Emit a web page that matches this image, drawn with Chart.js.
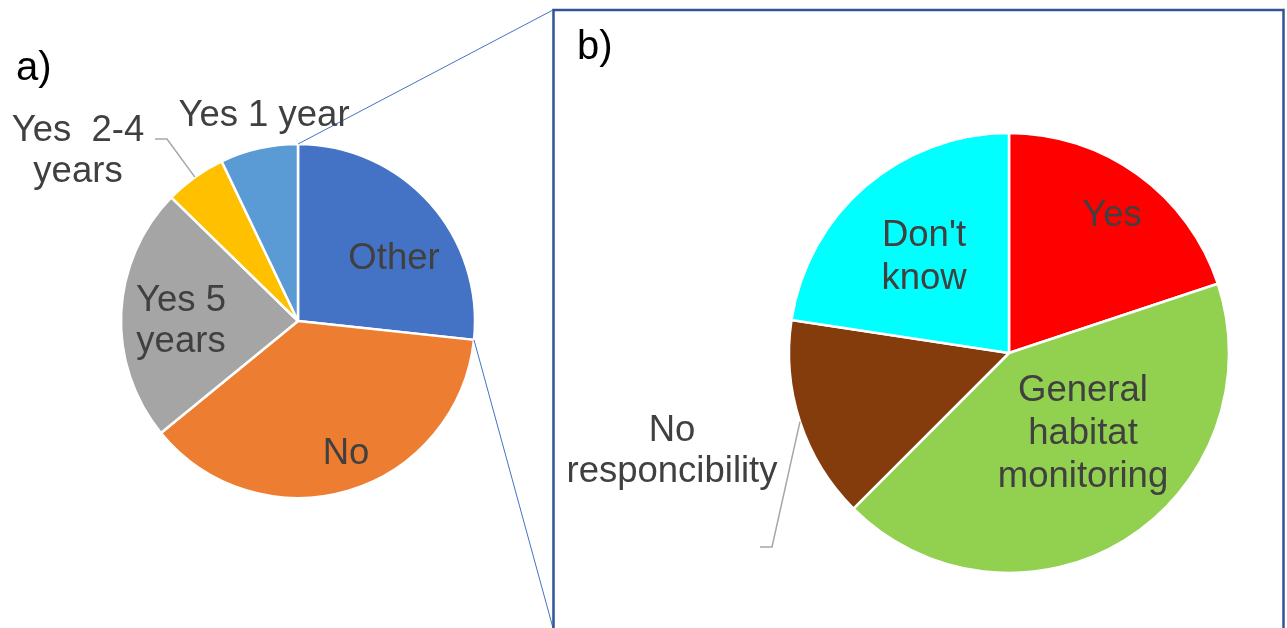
<!DOCTYPE html>
<html>
<head>
<meta charset="utf-8">
<title>Habitat monitoring survey</title>
<script src="https://cdn.jsdelivr.net/npm/chart.js@4.4.1/dist/chart.umd.min.js"></script>
<style>
  html, body { margin: 0; padding: 0; background: #fff; }
  .stage { position: relative; width: 1287px; height: 628px; overflow: hidden; }
  .stage canvas { position: absolute; left: 0; top: 0; }
</style>
</head>
<body>
<div class="stage">
  <canvas id="pieA" width="1287" height="628"></canvas>
  <canvas id="pieB" width="1287" height="628"></canvas>
</div>
<script>
// a) how long the monitoring has been running
const durationLabels = ['Other', 'No', 'Yes 5 years', 'Yes  2-4 years', 'Yes 1 year'];
const durationValues = [26.7, 37.4, 23.2, 5.6, 7.1];
const durationColors = ['#4472C4', '#ED7D31', '#A5A5A5', '#FFC000', '#5B9BD5'];

// b) breakdown of "Other"
const typeLabels = ['Yes', 'General habitat monitoring', 'No responcibility', "Don't know"];
const typeValues = [19.9, 42.6, 14.9, 22.6];
const typeColors = ['#FF0000', '#92D050', '#843C0C', '#00FFFF'];

const FONT = '36.5px "Liberation Sans", Arial, sans-serif';
const TEXT = '#404040';
const LINE_H = 41;

// label placement relative to the pie centre (baseline of the first line)
const durationText = [
  { lines: ['Other'], dx: 96, dy: -52 },
  { lines: ['No'], dx: 48, dy: 143 },
  { lines: ['Yes 5', 'years'], dx: -117, dy: -10 },
  { lines: ['Yes  2-4', 'years'], dx: -220, dy: -180, leader: [[-143, -182], [-131, -182]] },
  { lines: ['Yes 1 year'], dx: -34, dy: -195 },
];
const typeText = [
  { lines: ['Yes'], dx: 103, dy: -127 },
  { lines: ['General', 'habitat', 'monitoring'], dx: 74, dy: 48, lh: 43 },
  { lines: ['No', 'responcibility'], dx: -337, dy: 88, leader: [[-249, 194], [-237, 194]] },
  { lines: ["Don't", 'know'], dx: -85, dy: -107, lh: 43 },
];

function sliceLabels(spec, tag) {
  return {
    id: 'sliceLabels',
    afterDatasetsDraw(chart) {
      const ctx = chart.ctx;
      const arcs = chart.getDatasetMeta(0).data;
      ctx.save();
      arcs.forEach((arc, i) => {
        const s = spec[i];
        const { x, y, outerRadius, startAngle, endAngle } = arc.getProps(['x', 'y', 'outerRadius', 'startAngle', 'endAngle']);
        if (s.leader) {
          const mid = (startAngle + endAngle) / 2;
          ctx.strokeStyle = '#A6A6A6';
          ctx.lineWidth = 1.5;
          ctx.beginPath();
          ctx.moveTo(x + s.leader[0][0], y + s.leader[0][1]);
          ctx.lineTo(x + s.leader[1][0], y + s.leader[1][1]);
          ctx.lineTo(x + Math.cos(mid) * outerRadius, y + Math.sin(mid) * outerRadius);
          ctx.stroke();
        }
        ctx.font = FONT;
        ctx.fillStyle = TEXT;
        ctx.textAlign = 'center';
        ctx.textBaseline = 'alphabetic';
        s.lines.forEach((t, k) => {
          ctx.fillText(t, x + s.dx, y + s.dy + k * (s.lh || LINE_H));
        });
      });
      ctx.font = '40px "Liberation Sans", Arial, sans-serif';
      ctx.fillStyle = '#000';
      ctx.textAlign = 'left';
      ctx.fillText(tag.text, tag.x, tag.y);
      ctx.restore();
    }
  };
}

// lines from the "Other" slice out to the b) panel
const zoomLines = {
  id: 'zoomLines',
  afterDatasetsDraw(chart) {
    const arc = chart.getDatasetMeta(0).data[0];
    const { x, y, outerRadius, startAngle, endAngle } = arc.getProps(['x', 'y', 'outerRadius', 'startAngle', 'endAngle']);
    const ctx = chart.ctx;
    ctx.save();
    ctx.strokeStyle = '#4472C4';
    ctx.lineWidth = 1;
    ctx.beginPath();
    ctx.moveTo(x + Math.cos(startAngle) * outerRadius, y + Math.sin(startAngle) * outerRadius);
    ctx.lineTo(553, 10);
    ctx.moveTo(x + Math.cos(endAngle) * outerRadius, y + Math.sin(endAngle) * outerRadius);
    ctx.lineTo(553, 628);
    ctx.stroke();
    ctx.restore();
  }
};

const panelBox = {
  id: 'panelBox',
  beforeDraw(chart) {
    const ctx = chart.ctx;
    ctx.save();
    ctx.strokeStyle = '#2F5597';
    ctx.lineWidth = 2.5;
    ctx.strokeRect(553.5, 10, 730, 640);
    ctx.restore();
  }
};

function pieOptions(radius, cx, cy, w, h) {
  const half = radius + 10;
  return {
    responsive: false,
    animation: false,
    events: [],
    radius: radius,
    layout: {
      padding: { left: cx - half, top: cy - half, right: w - cx - half, bottom: h - cy - half }
    },
    plugins: {
      legend: { display: false },
      tooltip: { enabled: false },
    },
  };
}

new Chart(document.getElementById('pieA').getContext('2d'), {
  type: 'pie',
  data: {
    labels: durationLabels,
    datasets: [{
      data: durationValues,
      backgroundColor: durationColors,
      borderColor: '#fff',
      borderWidth: 2.5,
      hoverOffset: 0,
    }],
  },
  options: pieOptions(177, 298, 321, 1287, 628),
  plugins: [zoomLines, sliceLabels(durationText, { text: 'a)', x: 16, y: 80 })],
});

new Chart(document.getElementById('pieB').getContext('2d'), {
  type: 'pie',
  data: {
    labels: typeLabels,
    datasets: [{
      data: typeValues,
      backgroundColor: typeColors,
      borderColor: '#fff',
      borderWidth: 2.5,
      hoverOffset: 0,
    }],
  },
  options: pieOptions(220, 1009, 353, 1287, 628),
  plugins: [panelBox, sliceLabels(typeText, { text: 'b)', x: 577, y: 59 })],
});
</script>
</body>
</html>
